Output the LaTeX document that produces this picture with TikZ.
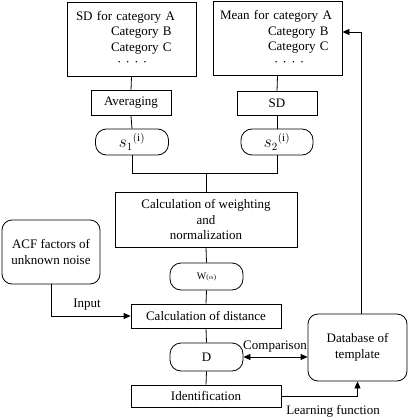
\documentclass[tikz,border=0pt]{standalone}
\usepackage{fontspec}
\setmainfont{Liberation Serif}
\usetikzlibrary{arrows.meta,calc}
\tikzset{
  box/.style={draw, line width=0.8pt, rectangle, inner sep=0pt, align=center},
  rbox/.style={draw, line width=0.8pt, rectangle, rounded corners=10pt, inner sep=0pt, align=center},
  pill/.style={draw, line width=0.8pt, rectangle, rounded corners=11pt, inner sep=0pt, align=center},
  conn/.style={line width=0.8pt},
  arr/.style={line width=0.8pt, -{Triangle[length=7pt,width=6pt]}},
  darr/.style={line width=0.8pt, {Triangle[length=7pt,width=6pt]}-{Triangle[length=7pt,width=6pt]}},
  lbl/.style={inner sep=0pt}
}
\begin{document}
\begin{tikzpicture}[x=1pt,y=-1pt,font=\fontsize{13}{15.5}\selectfont]
\useasboundingbox (0,0) rectangle (412,420);
\node[box, minimum width=129pt, minimum height=74pt, text width=111pt, align=left, inner xsep=9pt] (sdA) at (131.5,39)
  {SD for category A\\\hspace*{35pt}Category B\\\hspace*{35pt}Category C\\\hspace*{41pt}· · · ·};
\node[box, minimum width=129pt, minimum height=74pt, text width=115pt, align=left, inner xsep=7pt] (mean) at (277.5,38.5)
  {Mean for category A\\\hspace*{48pt}Category B\\\hspace*{48pt}Category C\\\hspace*{54pt}· · · ·};
\node[box, minimum width=80pt, minimum height=25pt] (avg) at (131,103) {Averaging};
\node[box, minimum width=80pt, minimum height=24pt] (sd) at (277,103.5) {SD};
\node[pill, minimum width=73pt, minimum height=26pt, font=\fontsize{16}{18}\selectfont] (s1) at (132,142) {${s_1}^{(\mathrm{i})}$};
\node[pill, minimum width=72pt, minimum height=26pt, font=\fontsize{16}{18}\selectfont] (s2) at (277,142) {${s_2}^{(\mathrm{i})}$};
\node[box, minimum width=182pt, minimum height=55pt] (calc) at (206,219.5) {Calculation of weighting\\and\\normalization};
\node[rbox, minimum width=98pt, minimum height=64pt] (acf) at (51,252) {ACF factors of\\unknown noise};
\node[pill, minimum width=73pt, minimum height=27pt] (w) at (206.5,276.5) {{\fontsize{10}{11}\selectfont W}{\fontsize{7}{8}\selectfont($\alpha$)}};
\node[box, minimum width=150pt, minimum height=24pt] (dist) at (206,316) {Calculation of distance};
\node[pill, minimum width=73pt, minimum height=28pt] (d) at (206.5,357) {D};
\node[box, minimum width=150pt, minimum height=22pt] (ident) at (206,396) {Identification};
\node[rbox, minimum width=99pt, minimum height=67pt] (db) at (357.5,347.5) {Database of\\template};
\coordinate (j) at ($(calc.north)+(0,-18)$);
\coordinate (tr) at (361,32);
\draw[conn] (sdA.south) -- (avg.north);
\draw[conn] (mean.south) -- (sd.north);
\draw[conn] (avg.south) -- (s1.north);
\draw[conn] (sd.south) -- (s2.north);
\draw[conn] (s1.south) -- (s1.south |- j) -- (s2.south |- j) -- (s2.south);
\draw[conn] (j) -- (calc.north);
\draw[conn] (calc.south) -- (w.north);
\draw[conn] (w.south) -- (dist.north);
\draw[conn] (dist.south) -- (d.north);
\draw[conn] (d.south) -- (ident.north);
\draw[arr] (acf.south) |- (dist.west);
\draw[darr] (d.east) -- (d.east -| db.west);
\draw[arr] (ident.east) -| (db.south);
\draw[arr] (db.north -| tr) -- (tr) -- (tr -| mean.east);
\node[lbl] (inp) at (87,305) {Input};
\node[lbl] (cmp) at (275,347) {Comparison};
\node[lbl] (lrn) at (333,411) {Learning function};
\end{tikzpicture}
\end{document}
